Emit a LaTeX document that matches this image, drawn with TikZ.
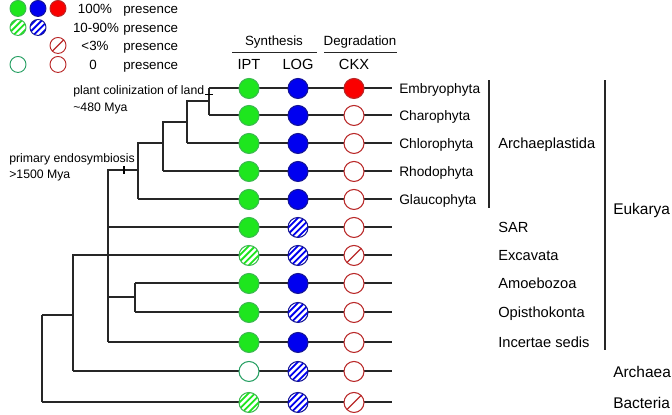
\documentclass[tikz,border=0pt]{standalone}
\usepackage{fontspec}
\setmainfont{Liberation Sans}
\usepackage{tikz}
\usetikzlibrary{positioning,calc}

\definecolor{ipt}{RGB}{30,230,30}
\definecolor{iptline}{RGB}{60,185,80}
\definecolor{log}{RGB}{0,0,240}
\definecolor{logline}{RGB}{20,20,150}
\definecolor{ckx}{RGB}{250,0,0}
\definecolor{ckxline}{RGB}{185,40,40}
\definecolor{nullgreen}{RGB}{40,160,100}

\begin{document}
\begin{tikzpicture}[
  x=0.75pt, y=-0.75pt,
  branch/.style={draw=black!85, line width=1.5pt},
  bar/.style={draw=black!85, line width=1.1pt},
  taxon/.style={anchor=west, inner sep=0pt, text height=7.4pt, text depth=0pt, font=\fontsize{10.3}{12}\selectfont},
  group/.style={taxon, text height=7.9pt, font=\fontsize{11}{13}\selectfont},
  domname/.style={taxon, text height=8.3pt, font=\fontsize{11.6}{14}\selectfont},
  note/.style={anchor=west, inner sep=0pt, text height=6.7pt, text depth=0pt, font=\fontsize{9.2}{11}\selectfont},
  head/.style={inner sep=0pt, text height=7.4pt, text depth=0pt, font=\fontsize{10}{12}\selectfont},
  col/.style={inner sep=0pt, text height=8pt, text depth=0pt, font=\fontsize{11}{13}\selectfont},
  dot/.style={circle, inner sep=0pt, minimum size=15pt, line width=0.8pt},
  full/.style={dot, fill=#1, draw=#1line},
  hatch/.style={dot, fill=white, draw=#1line, path picture={
      \foreach \k in {-12,-7.2,...,12}
        \draw[#1, line width=1.35pt]
          ($(path picture bounding box.center)+(\k pt,0)$) +(-12pt,-12pt) -- +(12pt,12pt);}},
  slash/.style={dot, fill=white, draw=ckxline, path picture={
      \draw[ckxline, line width=0.9pt]
        ($(path picture bounding box.center)+(-6pt,-6pt)$) -- ($(path picture bounding box.center)+(6pt,6pt)$);}},
  none/.style={dot, fill=white, draw=#1},
  gfull/.style={full=ipt}, bfull/.style={full=log}, rfull/.style={full=ckx},
  ghatch/.style={hatch=ipt}, bhatch/.style={hatch=log},
  gnone/.style={none=nullgreen}, rnone/.style={none=ckxline},
  small/.style={minimum size=12pt, line width=0.7pt}
]

% legend
\node[gfull, small] (kg1) at (18,8) {};
\node[bfull, small] (kb1) at (38,8) {};
\node[rfull, small] (kr1) at (58,8) {};
\node[ghatch, small] (kg2) at (18,27) {};
\node[bhatch, small] (kb2) at (38,27) {};
\node[slash, small] (kr3) at (58,45) {};
\node[gnone, small] (kg4) at (18,64) {};
\node[rnone, small] (kr4) at (58,64) {};
\node[head] (kp1) at (95,8) {100\%};
\node[head] (kp2) at (96,27) {10-90\%};
\node[head] (kp3) at (95,45) {<3\%};
\node[head] (kp4) at (93,64) {0};
\foreach \i/\y in {1/8,2/27,3/45,4/64}
  \node[head, anchor=west] (kt\i) at (123,\y) {presence};

% column heads
\node[head] (synth) at (274,40) {Synthesis};
\node[head] (degr) at (360,40) {Degradation};
\coordinate (s1) at (232,52); \coordinate (s2) at (317,52);
\coordinate (d1) at (324,52); \coordinate (d2) at (397,52);
\draw[bar] (s1) -- (s2);
\draw[bar] (d1) -- (d2);
\node[col] (hipt) at (249,64) {IPT};
\node[col] (hlog) at (298,64) {LOG};
\node[col] (hckx) at (354,64) {CKX};

% tree: leaves
\coordinate (lemb) at (209,88);
\coordinate (lcha) at (209,115);
\coordinate (lchl) at (187,143);
\coordinate (lrho) at (163,171);
\coordinate (lgla) at (138,199);
\coordinate (lsar) at (108,227);
\coordinate (lexc) at (108,255);
\coordinate (lamo) at (135,283);
\coordinate (lopi) at (135,312);
\coordinate (linc) at (108,342);
\coordinate (larc) at (73,371);
\coordinate (lbac) at (42,402);
% tree: inner nodes
\coordinate (nEC) at (209,101);
\coordinate (nECC) at (187,122);
\coordinate (nR) at (163,143);
\coordinate (nArch) at (138,170);
\coordinate (nAO) at (135,297);
\coordinate (nEuk) at (108,255);
\coordinate (nAE) at (73,315);
\coordinate (nRoot) at (42,315);

\draw[branch] (nEC) -- (lemb) (nEC) -- (lcha);
\draw[branch] (nECC) |- (nEC) (nECC) -- (lchl);
\draw[branch] (nR) |- (nECC) (nR) -- (lrho);
\draw[branch] (nArch) |- (nR) (nArch) -- (lgla);
\draw[branch] (nEuk) |- (nArch) (nEuk) |- (nAO) (nEuk) -- (linc);
\draw[branch] (nAO) -- (lamo) (nAO) -- (lopi);
\draw[branch] (nAE) |- (nEuk) (nAE) -- (larc);
\draw[branch] (nRoot) -- (nAE) (nRoot) -- (lbac);

% ticks
\coordinate (tPE) at (124,170);
\coordinate (tPL) at (209,94);
\draw[line width=1pt] (tPE) +(0,-4) -- +(0,4);
\draw[line width=1pt] (tPL) +(-4,0) -- +(4,0);
\node[note] (plant) at (73,90) {plant colinization of land};
\node[note] (plantt) at (73,107) {\textasciitilde480 Mya};
\node[note] (endo) at (9,158) {primary endosymbiosis};
\node[note] (endot) at (9,174) {>1500 Mya};

% rows
\foreach \n/\a/\b/\c in {emb/gfull/bfull/rfull,
    cha/gfull/bfull/rnone,
    chl/gfull/bfull/rnone,
    rho/gfull/bfull/rnone,
    gla/gfull/bfull/rnone,
    sar/gfull/bhatch/rnone,
    exc/ghatch/bhatch/slash,
    amo/gfull/bfull/rnone,
    opi/gfull/bhatch/rnone,
    inc/gfull/bfull/rnone,
    arc/gnone/bhatch/rnone,
    bac/ghatch/bhatch/slash} {
  \coordinate (e\n) at (392,0 |- l\n);
  \draw[branch] (l\n) -- (e\n);
  \node[\a] (i\n) at (249,0 |- l\n) {};
  \node[\b] (g\n) at (298,0 |- l\n) {};
  \node[\c] (k\n) at (354,0 |- l\n) {};
}

% names
\foreach \n/\t in {emb/Embryophyta,cha/Charophyta,chl/Chlorophyta,rho/Rhodophyta,gla/Glaucophyta}
  \node[taxon] (t\n) at (399,0 |- l\n) {\t};
\foreach \n/\t in {sar/SAR,exc/Excavata,amo/Amoebozoa,opi/Opisthokonta,inc/Incertae sedis}
  \node[group] (t\n) at (498,0 |- l\n) {\t};
\node[domname] (tarc) at (613,0 |- larc) {Archaea};
\node[domname] (tbac) at (613,0 |- lbac) {Bacteria};

% groups
\coordinate (ap1) at (489,80); \coordinate (ap2) at (489,208);
\coordinate (eu1) at (605,80); \coordinate (eu2) at (605,350);
\draw[bar] (ap1) -- (ap2);
\draw[bar] (eu1) -- (eu2);
\node[group] (archae) at (498,143) {Archaeplastida};
\node[domname] (euk) at (613,208) {Eukarya};

\useasboundingbox (0,0) rectangle (672,414);
\end{tikzpicture}
\end{document}
